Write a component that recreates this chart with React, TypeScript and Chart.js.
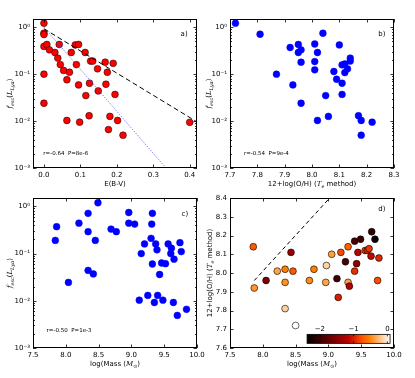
import React, { useEffect, useRef } from "react";
import { Chart, registerables } from "chart.js";
Chart.register(...registerables);

// ---------------- data ----------------
// panel a: E(B-V) vs f_esc
const ebvA = [0, 0, 0, 0, 0.008, 0.015, 0.03, 0.042, 0.038, 0.045, 0.054, 0.063, 0.07, 0.075, 0.086, 0.095, 0.089, 0.095, 0.113, 0.115, 0.125, 0.128, 0.134, 0.124, 0.147, 0.149, 0.168, 0.174, 0.17, 0.19, 0.195, 0.181, 0.177, 0.202, 0.217, 0.098, 0.063, 0, 0, 0.4];
const fescA = [1.22, 0.745, 0.7, 0.39, 0.43, 0.33, 0.29, 0.43, 0.22, 0.16, 0.12, 0.076, 0.11, 0.29, 0.42, 0.43, 0.16, 0.059, 0.29, 0.035, 0.064, 0.19, 0.19, 0.013, 0.13, 0.044, 0.18, 0.11, 0.061, 0.17, 0.037, 0.0126, 0.0066, 0.0103, 0.005, 0.0095, 0.0103, 0.1, 0.024, 0.0094];
// panel b: 12+log(O/H) vs f_esc
const ohB = [7.72, 7.81, 7.87, 7.92, 7.95, 7.95, 7.96, 7.96, 7.93, 7.96, 8.01, 8.01, 8.01, 8.02, 8.04, 8.05, 8.02, 8.06, 8.08, 8.09, 8.1, 8.11, 8.11, 8.11, 8.12, 8.12, 8.13, 8.14, 8.14, 8.17, 8.18, 8.18, 8.22];
const fescB = [1.22, 0.71, 0.1, 0.37, 0.43, 0.29, 0.33, 0.18, 0.059, 0.024, 0.44, 0.186, 0.124, 0.29, 0.745, 0.035, 0.0103, 0.0126, 0.114, 0.078, 0.42, 0.158, 0.064, 0.037, 0.165, 0.108, 0.13, 0.22, 0.19, 0.013, 0.0103, 0.005, 0.0095];
// panel c: log Mass vs f_esc
const massC = [7.86, 7.84, 8.04, 8.2, 8.34, 8.34, 8.34, 8.42, 8.45, 8.49, 8.69, 8.77, 8.96, 8.96, 9.05, 9.2, 9.15, 9.32, 9.31, 9.32, 9.3, 9.37, 9.39, 9.46, 9.52, 9.43, 9.56, 9.61, 9.6, 9.65, 9.74, 9.76, 9.12, 9.25, 9.35, 9.4, 9.48, 9.64, 9.7, 9.84];
const fescC = [0.37, 0.19, 0.0245, 0.44, 0.71, 0.29, 0.044, 0.037, 0.19, 1.19, 0.33, 0.29, 0.44, 0.74, 0.42, 0.16, 0.1, 0.06, 0.42, 0.71, 0.21, 0.16, 0.12, 0.063, 0.061, 0.036, 0.16, 0.13, 0.1, 0.076, 0.17, 0.11, 0.0103, 0.013, 0.0092, 0.013, 0.0103, 0.0092, 0.0049, 0.0066];
// panel d: log Mass vs 12+log(O/H), coloured by log f_esc
const massD = [7.855, 7.87, 8.05, 8.22, 8.34, 8.34, 8.34, 8.43, 8.46, 8.5, 8.71, 8.78, 8.96, 8.97, 9.05, 9.13, 9.15, 9.19, 9.26, 9.3, 9.3, 9.32, 9.4, 9.4, 9.43, 9.45, 9.49, 9.56, 9.59, 9.62, 9.65, 9.66, 9.71, 9.77, 9.75];
const ohD = [8.14, 7.92, 7.96, 8.01, 8.02, 7.95, 7.81, 8.11, 8.01, 7.72, 7.96, 8.02, 7.95, 8.04, 8.1, 7.97, 7.87, 8.11, 8.06, 8.14, 7.95, 7.93, 8.17, 8.01, 8.05, 8.11, 8.18, 8.12, 8.12, 8.13, 8.09, 8.22, 8.18, 8.08, 7.96];
const logFescD = [-0.72, -0.43, -1.61, -0.36, -0.54, -0.45, -0.15, -1.43, -0.72, 0.08, -0.48, -0.54, -0.36, -0.13, -0.38, -1.99, -1.0, -0.8, -1.89, -0.68, -0.38, -1.23, -1.89, -0.92, -1.44, -1.2, -1.99, -0.8, -1.0, -0.89, -1.12, -2.04, -2.31, -0.96, -0.77];

// reference lines
const slabLineX = [0, 0.42];
const slabLineY = [0.93, 0.0096];
const screenLineX = [0, 0.335];
const screenLineY = [1.0, 0.001];
const mzLineX = [7.87, 9.02];
const mzLineY = [7.96, 8.4];

// ticks
const ebvTicks = [0, 0.1, 0.2, 0.3, 0.4];
const ohTicks = [7.7, 7.8, 7.9, 8.0, 8.1, 8.2, 8.3];
const massTicks = [7.5, 8.0, 8.5, 9.0, 9.5, 10.0];
const fescTicks = [0.001, 0.01, 0.1, 1];
const ohDTicks = [7.6, 7.7, 7.8, 7.9, 8.0, 8.1, 8.2, 8.3, 8.4];
const cbTicks = [-2, -1, 0];
const cbRange = [-2.38, 0.08];

const statsText = ["r=-0.64  P=8e-6", "r=-0.54  P=9e-4", "r=-0.50  P=1e-3"];
const panelLetters = ["a)", "b)", "c)", "d)"];

// ---------------- helpers ----------------
const W = 415;
const H = 378;
const Y_W = 30;
const X_H = 20;
const SANS = "'DejaVu Sans', 'Liberation Sans', sans-serif";
const SERIF = "'DejaVu Serif', 'Liberation Serif', serif";
const FS = 7;

type Part = { t: string; it?: boolean; sub?: boolean };

const SUP: Record<string, string> = { "-": "⁻", "0": "⁰", "1": "¹", "2": "²", "3": "³", "4": "⁴", "5": "⁵", "6": "⁶", "7": "⁷", "8": "⁸", "9": "⁹" };
const fmtLog = (v: number) => "10" + String(Math.round(Math.log10(v))).split("").map((c) => SUP[c] || c).join("");
const fmt1 = (v: number) => Number(v).toFixed(1);

function cmap(v: number) {
  const t = Math.min(1, Math.max(0, (v - cbRange[0]) / (cbRange[1] - cbRange[0])));
  const r = Math.min(1, 1.5 * t);
  const g = Math.max(0, Math.min(1, 2 * t - 1));
  const b = Math.max(0, Math.min(1, 4 * t - 3));
  return `rgb(${Math.round(r * 255)},${Math.round(g * 255)},${Math.round(b * 255)})`;
}

function fontFor(p: Part, size: number) {
  const s = p.sub ? size * 0.7 : size;
  return `${p.it ? "italic " : ""}${s}px ${p.it ? SERIF : SANS}`;
}

function drawRich(ctx: CanvasRenderingContext2D, parts: Part[], x: number, y: number, size: number, align: string) {
  let total = 0;
  const widths = parts.map((p) => {
    ctx.font = fontFor(p, size);
    const w = ctx.measureText(p.t).width;
    total += w;
    return w;
  });
  let cx = align === "center" ? x - total / 2 : align === "right" ? x - total : x;
  ctx.textAlign = "left";
  ctx.textBaseline = "middle";
  parts.forEach((p, i) => {
    ctx.font = fontFor(p, size);
    ctx.fillText(p.t, cx, y + (p.sub ? size * 0.32 : 0));
    cx += widths[i];
  });
}

const pts = (xs: number[], ys: number[]) => xs.map((x, i) => ({ x, y: ys[i] }));

interface Note { parts: Part[]; fx: number; fy: number; size: number }
interface Panel {
  area: { l: number; t: number; r: number; b: number };
  x: { min: number; max: number; ticks: number[] };
  y: { log: boolean; min: number; max: number; ticks: number[] };
  datasets: any[];
  xTitle: Part[];
  yTitle: Part[];
  yTitleX: number;
  notes: Note[];
  colorbar?: boolean;
}

const fescTitle: Part[] = [{ t: "f", it: true }, { t: "esc", it: true, sub: true }, { t: "(" }, { t: "L", it: true }, { t: "Lyα", it: true, sub: true }, { t: ")" }];
const ohTitle: Part[] = [{ t: "12+log(O/H) (" }, { t: "T", it: true }, { t: "e", it: true, sub: true }, { t: " method)" }];
const massTitle: Part[] = [{ t: "log(Mass (" }, { t: "M", it: true }, { t: "⊙", sub: true }, { t: ")" }];

function decoPlugin(p: Panel) {
  return {
    id: "deco",
    afterDraw(chart: any) {
      const ctx: CanvasRenderingContext2D = chart.ctx;
      const a = chart.chartArea;
      const xs = chart.scales.x;
      const ys = chart.scales.y;
      ctx.save();
      ctx.strokeStyle = "#000";
      ctx.lineWidth = 0.8;
      ctx.beginPath();
      const maj = 3.5;
      const mino = 2;
      for (const t of xs.ticks) {
        const px = Math.round(xs.getPixelForValue(t.value)) + 0.5;
        ctx.moveTo(px, a.bottom);
        ctx.lineTo(px, a.bottom - maj);
        ctx.moveTo(px, a.top);
        ctx.lineTo(px, a.top + maj);
      }
      for (const t of ys.ticks) {
        const py = Math.round(ys.getPixelForValue(t.value)) + 0.5;
        ctx.moveTo(a.left, py);
        ctx.lineTo(a.left + maj, py);
        ctx.moveTo(a.right, py);
        ctx.lineTo(a.right - maj, py);
      }
      if (p.y.log) {
        const e0 = Math.floor(Math.log10(p.y.min));
        const e1 = Math.ceil(Math.log10(p.y.max));
        for (let e = e0; e <= e1; e++) {
          for (let k = 2; k <= 9; k++) {
            const v = k * Math.pow(10, e);
            if (v <= p.y.min || v >= p.y.max) continue;
            const py = Math.round(ys.getPixelForValue(v)) + 0.5;
            ctx.moveTo(a.left, py);
            ctx.lineTo(a.left + mino, py);
            ctx.moveTo(a.right, py);
            ctx.lineTo(a.right - mino, py);
          }
        }
      }
      ctx.stroke();
      ctx.lineWidth = 1;
      ctx.strokeRect(a.left + 0.5, a.top + 0.5, a.right - a.left - 1, a.bottom - a.top - 1);

      ctx.fillStyle = "#000";
      drawRich(ctx, p.xTitle, (a.left + a.right) / 2, a.bottom + 16, FS, "center");
      ctx.save();
      ctx.translate(p.yTitleX, (a.top + a.bottom) / 2);
      ctx.rotate(-Math.PI / 2);
      drawRich(ctx, p.yTitle, 0, 0, FS, "center");
      ctx.restore();
      for (const n of p.notes) {
        drawRich(ctx, n.parts, a.left + n.fx * (a.right - a.left), a.top + n.fy * (a.bottom - a.top), n.size, "left");
      }

      if (p.colorbar) {
        const x0 = a.left + 0.47 * (a.right - a.left);
        const x1 = a.left + 0.976 * (a.right - a.left);
        const y0 = a.top + 0.909 * (a.bottom - a.top);
        const y1 = a.top + 0.969 * (a.bottom - a.top);
        const grad = ctx.createLinearGradient(x0, 0, x1, 0);
        const n = 40;
        for (let i = 0; i <= n; i++) {
          grad.addColorStop(i / n, cmap(cbRange[0] + (i / n) * (cbRange[1] - cbRange[0])));
        }
        ctx.fillStyle = grad;
        ctx.fillRect(x0, y0, x1 - x0, y1 - y0);
        ctx.strokeStyle = "#000";
        ctx.lineWidth = 0.8;
        ctx.strokeRect(x0, y0, x1 - x0, y1 - y0);
        ctx.fillStyle = "#000";
        ctx.beginPath();
        for (const v of cbTicks) {
          const px = x0 + ((v - cbRange[0]) / (cbRange[1] - cbRange[0])) * (x1 - x0);
          ctx.moveTo(px, y0);
          ctx.lineTo(px, y0 + 2);
          ctx.moveTo(px, y1);
          ctx.lineTo(px, y1 - 2);
          ctx.font = `${FS}px ${SANS}`;
          ctx.textAlign = "center";
          ctx.textBaseline = "middle";
          ctx.fillText(v < 0 ? "−" + Math.abs(v) : String(v), px, y0 - 5);
        }
        ctx.stroke();
      }
      ctx.restore();
    },
  };
}

function makeConfig(p: Panel): any {
  const tickFont = { family: SANS, size: FS };
  return {
    type: "scatter",
    data: { datasets: p.datasets },
    plugins: [decoPlugin(p)],
    options: {
      animation: false,
      responsive: false,
      events: [],
      layout: {
        padding: { left: p.area.l - Y_W, top: p.area.t, right: W - p.area.r, bottom: H - p.area.b - X_H },
      },
      plugins: { legend: { display: false }, tooltip: { enabled: false } },
      scales: {
        x: {
          type: "linear",
          min: p.x.min,
          max: p.x.max,
          grid: { display: false, drawTicks: false },
          border: { display: false },
          ticks: { font: tickFont, color: "#000", padding: 3, autoSkip: false, maxRotation: 0, callback: (v: number) => fmt1(v) },
          afterBuildTicks: (s: any) => { s.ticks = p.x.ticks.map((v) => ({ value: v })); },
          afterFit: (s: any) => { s.height = X_H; },
        },
        y: {
          type: p.y.log ? "logarithmic" : "linear",
          min: p.y.min,
          max: p.y.max,
          grid: { display: false, drawTicks: false },
          border: { display: false },
          ticks: { font: tickFont, color: "#000", padding: 3, autoSkip: false, callback: (v: number) => (p.y.log ? fmtLog(v) : fmt1(v)) },
          afterBuildTicks: (s: any) => { s.ticks = p.y.ticks.map((v) => ({ value: v })); },
          afterFit: (s: any) => { s.width = Y_W; },
        },
      },
    },
  };
}

const R = 3.4;
const blueDots = (xs: number[], ys: number[]) => ({
  data: pts(xs, ys), backgroundColor: "#0000ff", borderColor: "#0000ff", borderWidth: 0.5, pointRadius: R, order: 2,
});

const panels: Panel[] = [
  {
    area: { l: 33, t: 19, r: 197, b: 168 },
    x: { min: -0.03, max: 0.42, ticks: ebvTicks },
    y: { log: true, min: 0.001, max: 1.5, ticks: fescTicks },
    datasets: [
      { data: pts(slabLineX, slabLineY), showLine: true, borderColor: "#000", borderWidth: 1, borderDash: [5, 3], pointRadius: 0, order: 1 },
      { data: pts(screenLineX, screenLineY), showLine: true, borderColor: "#4d4dff", borderWidth: 0.9, borderDash: [1, 1.5], pointRadius: 0, order: 1 },
      { data: pts(ebvA, fescA), backgroundColor: "#ff0000", borderColor: "#000", borderWidth: 0.5, pointRadius: R, order: 2 },
    ],
    xTitle: [{ t: "E(B-V)" }],
    yTitle: fescTitle,
    yTitleX: 10,
    notes: [
      { parts: [{ t: panelLetters[0] }], fx: 0.9, fy: 0.1, size: FS },
      { parts: [{ t: statsText[0] }], fx: 0.063, fy: 0.9, size: 5.5 },
    ],
  },
  {
    area: { l: 230, t: 19, r: 394, b: 168 },
    x: { min: 7.7, max: 8.3, ticks: ohTicks },
    y: { log: true, min: 0.001, max: 1.5, ticks: fescTicks },
    datasets: [blueDots(ohB, fescB)],
    xTitle: ohTitle,
    yTitle: fescTitle,
    yTitleX: 209,
    notes: [
      { parts: [{ t: panelLetters[1] }], fx: 0.904, fy: 0.1, size: FS },
      { parts: [{ t: statsText[1] }], fx: 0.085, fy: 0.9, size: 5.5 },
    ],
  },
  {
    area: { l: 33, t: 198, r: 197, b: 348 },
    x: { min: 7.5, max: 10.0, ticks: massTicks },
    y: { log: true, min: 0.001, max: 1.5, ticks: fescTicks },
    datasets: [blueDots(massC, fescC)],
    xTitle: massTitle,
    yTitle: fescTitle,
    yTitleX: 10,
    notes: [
      { parts: [{ t: panelLetters[2] }], fx: 0.906, fy: 0.109, size: FS },
      { parts: [{ t: statsText[2] }], fx: 0.083, fy: 0.885, size: 5.5 },
    ],
  },
  {
    area: { l: 230, t: 198, r: 394, b: 348 },
    x: { min: 7.5, max: 10.0, ticks: massTicks },
    y: { log: false, min: 7.6, max: 8.4, ticks: ohDTicks },
    datasets: [
      { data: pts(mzLineX, mzLineY), showLine: true, borderColor: "#000", borderWidth: 1, borderDash: [4, 3], pointRadius: 0, order: 1 },
      { data: pts(massD, ohD), backgroundColor: logFescD.map(cmap), borderColor: "#000", borderWidth: 0.6, pointRadius: R, order: 2 },
    ],
    xTitle: massTitle,
    yTitle: ohTitle,
    yTitleX: 210,
    notes: [{ parts: [{ t: panelLetters[3] }], fx: 0.904, fy: 0.075, size: FS }],
    colorbar: true,
  },
];

export default function App() {
  const r0 = useRef<HTMLCanvasElement>(null);
  const r1 = useRef<HTMLCanvasElement>(null);
  const r2 = useRef<HTMLCanvasElement>(null);
  const r3 = useRef<HTMLCanvasElement>(null);
  const refs = [r0, r1, r2, r3];
  useEffect(() => {
    const charts = panels.map((p, i) => new Chart(refs[i].current as HTMLCanvasElement, makeConfig(p)));
    return () => charts.forEach((c) => c.destroy());
  }, []);
  return (
    <div style={{ position: "absolute", left: 0, top: 0, width: W, height: H, background: "#fff" }}>
      {refs.map((r, i) => (
        <canvas key={i} ref={r} width={W} height={H} style={{ position: "absolute", left: 0, top: 0 }} />
      ))}
    </div>
  );
}
